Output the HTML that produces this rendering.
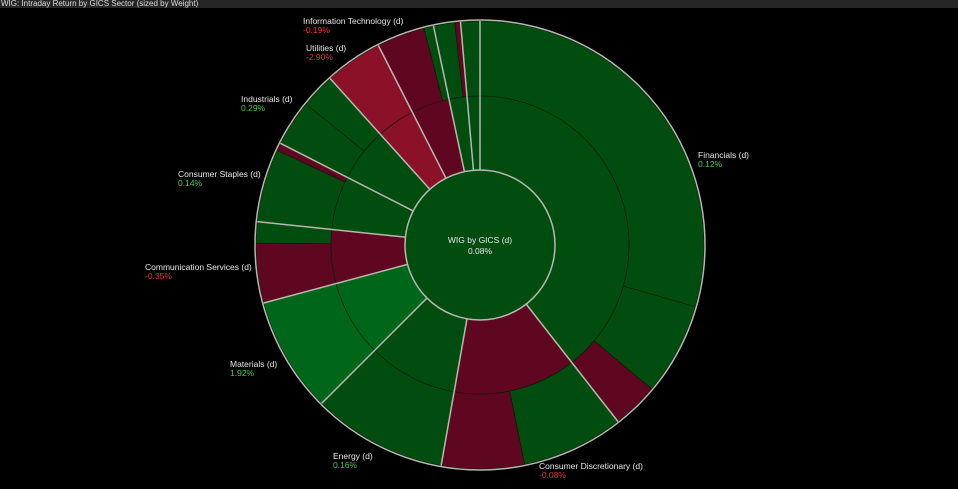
<!DOCTYPE html>
<html><head><meta charset="utf-8">
<style>
html,body{margin:0;padding:0;background:#000;width:958px;height:489px;overflow:hidden}
#title{position:absolute;left:0;top:0;width:958px;height:8px;background:#262626;color:#ddd;font:8px "Liberation Sans",sans-serif;line-height:8px;padding-left:1px;white-space:nowrap}
svg{position:absolute;left:0;top:0}
text{font-family:"Liberation Sans",sans-serif;font-size:8.5px}
</style></head>
<body>
<div id="title">WIG: Intraday Return by GICS Sector (sized by Weight)</div>
<svg id="chart" width="958" height="489"></svg>
<script>
// Sector data (angles in degrees clockwise from top, derived from weights)
const sectors = ["Financials","Consumer Discretionary","Energy","Materials","Communication Services","Consumer Staples","Industrials","Utilities","Information Technology","Other A","Other B"];
const sectorStart = [0,142,190,225,255,276,297,318,333,348,355];
const sectorEnd   = [142,190,225,255,276,297,318,333,348,355,360];
const sectorColor = ["#014d10","#5f0720","#014d10","#00661a","#5f0720","#014d10","#014d10","#8a1128","#5f0720","#014d10","#014d10"];
const sectorReturn = ["0.12%","-0.08%","0.16%","1.92%","-0.35%","0.14%","0.29%","-2.90%","-0.19%","",""];
// Outer ring: constituents
const stockStart = [0,106,130,142,168.5,190,225,255,270.5,276,295,297,309,318,333,345.5,348,353.5,355];
const stockEnd   = [106,130,142,168.5,190,225,255,270.5,276,295,297,309,318,333,345.5,348,353.5,355,360];
const stockColor = ["#014d10","#014d10","#5f0720","#014d10","#5f0720","#014d10","#00661a","#5f0720","#014d10","#014d10","#5f0720","#014d10","#014d10","#8a1128","#5f0720","#014d10","#014d10","#5f0720","#014d10"];
// Label anchors
const labelX = [698,539,333,230,145,178,241,306,303];
const labelY = [158,469,459,367,270,177,102,51,24];

const cx=480, cy=245, r0=75, r1=149, r2=224;
const svg=document.getElementById('chart');
const NS='http://www.w3.org/2000/svg';
function pt(a,r){const t=a*Math.PI/180;return [cx+r*Math.sin(t), cy-r*Math.cos(t)];}
function arc(a0,a1,ri,ro){
  const [x0,y0]=pt(a0,ro),[x1,y1]=pt(a1,ro),[x2,y2]=pt(a1,ri),[x3,y3]=pt(a0,ri);
  const l=(a1-a0)>180?1:0;
  return `M${x0},${y0}A${ro},${ro} 0 ${l} 1 ${x1},${y1}L${x2},${y2}A${ri},${ri} 0 ${l} 0 ${x3},${y3}Z`;
}
function mk(tag,attrs){const e=document.createElementNS(NS,tag);for(const k in attrs)e.setAttribute(k,attrs[k]);svg.appendChild(e);return e;}

for(let i=0;i<stockStart.length;i++){
  const p=mk('path',{d:arc(stockStart[i],stockEnd[i],r1,r2),fill:stockColor[i],stroke:'#0a1a0a','stroke-width':0.6});
  
  
}
for(let i=0;i<sectors.length;i++){
  const p=mk('path',{d:arc(sectorStart[i],sectorEnd[i],r0,r1),fill:sectorColor[i],stroke:'#0a1a0a','stroke-width':0.6});
  
  
}
// sector boundary lines
for(let i=0;i<sectors.length;i++){
  const [a,b]=pt(sectorStart[i],r0),[c,d]=pt(sectorStart[i],r2);
  const l=mk('line',{x1:a,y1:b,x2:c,y2:d,stroke:'#b8b8b0','stroke-width':1.5});
  
  
}
const oc=mk('circle',{cx:cx,cy:cy,r:r2+1,fill:'none',stroke:'#b8b8b0','stroke-width':1.5});


const ic=mk('circle',{cx:cx,cy:cy,r:r0,fill:'#014d10',stroke:'#b8b8b0','stroke-width':1.5});


const t1=mk('text',{x:cx,y:243,fill:'#e8e8e8','text-anchor':'middle'});t1.textContent='WIG by GICS (d)';


const t2=mk('text',{x:cx,y:254,fill:'#e8e8e8','text-anchor':'middle'});t2.textContent='0.08%';


for(let i=0;i<labelX.length;i++){
  const a=mk('text',{x:labelX[i],y:labelY[i],fill:'#e8e8e8'});a.textContent=sectors[i]+' (d)';
  
  
  const neg=sectorReturn[i].startsWith('-');
  const b=mk('text',{x:labelX[i],y:labelY[i]+9,fill:neg?'#e8304a':'#3fd24c'});b.textContent=sectorReturn[i];
  
  
}
</script>
</body></html>
